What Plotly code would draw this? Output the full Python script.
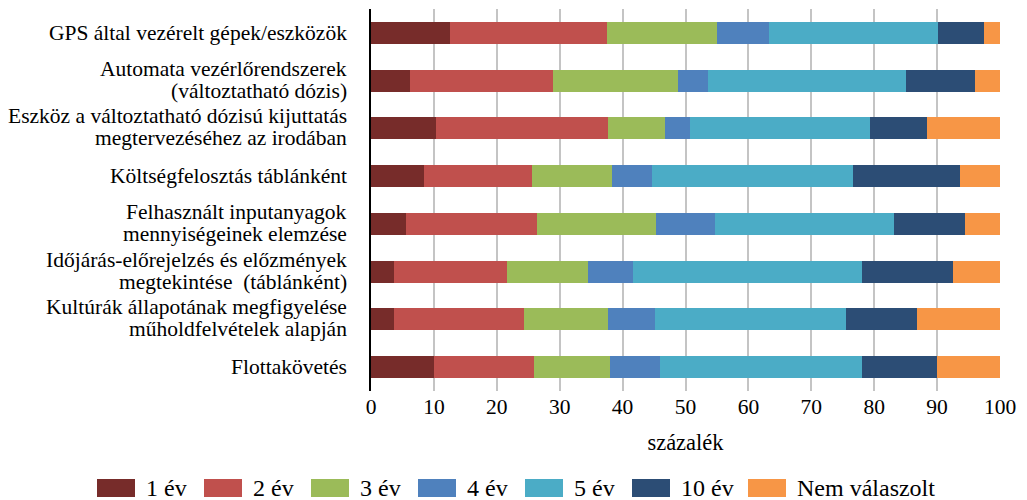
import plotly.graph_objects as go

categories = [
    "GPS által vezérelt gépek/eszközök",
    "Automata vezérlőrendszerek<br>(változtatható dózis)",
    "Eszköz a változtatható dózisú kijuttatás<br>megtervezéséhez az irodában",
    "Költségfelosztás táblánként",
    "Felhasznált inputanyagok<br>mennyiségeinek elemzése",
    "Időjárás-előrejelzés és előzmények<br>megtekintése  (táblánként)",
    "Kultúrák állapotának megfigyelése<br>műholdfelvételek alapján",
    "Flottakövetés",
]

series_names = ["1 év", "2 év", "3 év", "4 év", "5 év", "10 év", "Nem válaszolt"]

ev1 = [12.5, 6.2, 10.3, 8.4, 5.5, 3.6, 3.7, 10.0]
ev2 = [25.0, 22.8, 27.3, 17.2, 20.9, 18.1, 20.7, 15.9]
ev3 = [17.5, 19.8, 9.2, 12.7, 18.9, 12.8, 13.3, 12.1]
ev4 = [8.3, 4.8, 3.9, 6.4, 9.4, 7.2, 7.5, 8.0]
ev5 = [26.8, 31.5, 28.6, 32.0, 28.4, 36.4, 30.3, 32.0]
ev10 = [7.4, 11.0, 9.1, 16.9, 11.3, 14.5, 11.3, 12.0]
nem = [2.5, 3.9, 11.6, 6.4, 5.6, 7.4, 13.2, 10.0]

values = [ev1, ev2, ev3, ev4, ev5, ev10, nem]
colors = ["#772C2A", "#C0504D", "#9BBB59", "#4F81BD", "#4BACC6", "#2C4D75", "#F79646"]

x_ticks = [0, 10, 20, 30, 40, 50, 60, 70, 80, 90, 100]

FONT = "Liberation Serif, Times New Roman, serif"
W, H = 1027, 500
ML, MR, MT, MB = 371, 27, 9, 109
PW, PH = W - ML - MR, H - MT - MB


def px_x(px):
    """Pixel column -> paper x."""
    return (px - ML) / PW


def px_y(py):
    """Pixel row (from top) -> paper y."""
    return (H - MB - py) / PH


fig = go.Figure()
for name, vals, col in zip(series_names, values, colors):
    fig.add_trace(go.Bar(
        y=categories,
        x=vals,
        name=name,
        orientation="h",
        marker=dict(color=col, line=dict(width=0)),
        width=0.46,
        showlegend=False,
    ))

# category labels, one annotation per line for tight line spacing
annotations = []
for cat in categories:
    lines = cat.split("<br>")
    shifts = [0] if len(lines) == 1 else [12, -10]
    for line, dy in zip(lines, shifts):
        annotations.append(dict(
            x=0, xref="paper", xanchor="right", xshift=-22,
            y=cat, yref="y", yanchor="middle", yshift=dy,
            text=line, showarrow=False,
            font=dict(family=FONT, size=21.5, color="black"),
        ))

# legend built from swatches and labels along the bottom
legend_left = [97, 204, 311, 418, 525, 632, 748]
sw_w, sw_top, sw_bot, text_gap, legend_mid = 38, 479, 497, 9, 488
shapes = []
for name, col, x0 in zip(series_names, colors, legend_left):
    shapes.append(dict(
        type="rect", xref="paper", yref="paper",
        x0=px_x(x0), x1=px_x(x0 + sw_w), y0=px_y(sw_bot), y1=px_y(sw_top),
        fillcolor=col, line=dict(width=0), layer="above",
    ))
    annotations.append(dict(
        x=px_x(x0 + sw_w + text_gap), xref="paper", xanchor="left",
        y=px_y(legend_mid), yref="paper", yanchor="middle",
        text=name, showarrow=False,
        font=dict(family=FONT, size=24, color="black"),
    ))

fig.update_layout(
    barmode="stack",
    width=W,
    height=H,
    margin=dict(l=ML, r=MR, t=MT, b=MB),
    paper_bgcolor="white",
    plot_bgcolor="white",
    font=dict(family=FONT, size=21, color="black"),
    showlegend=False,
    annotations=annotations,
    shapes=shapes,
    xaxis=dict(
        range=[0, 100],
        tickvals=x_ticks,
        ticktext=[str(v) for v in x_ticks],
        showgrid=True,
        gridcolor="#C4C4C4",
        gridwidth=1.5,
        zeroline=False,
        showline=False,
        ticks="",
        tickfont=dict(family=FONT, size=21.5, color="black"),
        title=dict(text="százalék", font=dict(family=FONT, size=22.5, color="black"), standoff=16),
    ),
    yaxis=dict(
        categoryorder="array",
        categoryarray=categories,
        range=[7.5, -0.5],
        showgrid=False,
        zeroline=False,
        showline=True,
        linecolor="black",
        linewidth=2,
        ticks="",
        showticklabels=False,
    ),
)

fig.write_html("out.html")
